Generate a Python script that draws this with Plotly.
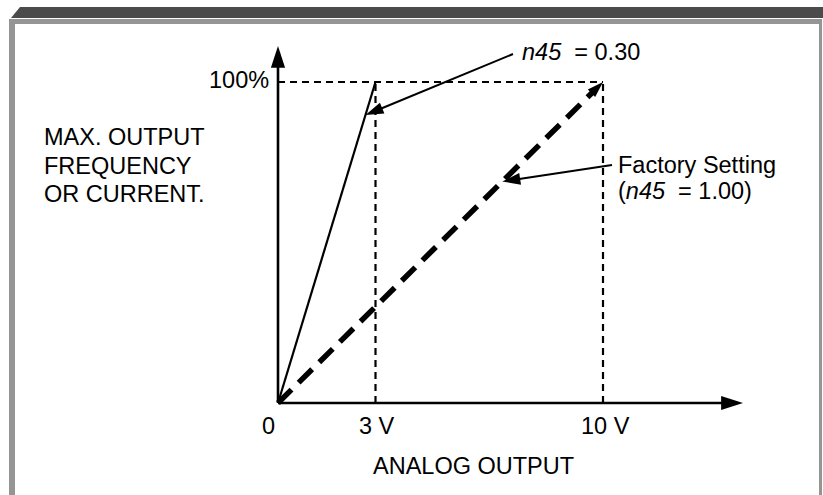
import plotly.graph_objects as go

# ---- chart values ----
volts = [0, 3, 10]                 # marked analog output voltages
volt_labels = ["0", "3 V", "10 V"]
v_max = 10                         # full analog output range (V)
full_scale = 100                   # % of max output frequency / current
full_scale_label = "100%"
gain_n45 = 0.30                    # n45 setting, steep curve
gain_factory = 1.00                # n45 factory setting
y_title_lines = ["MAX. OUTPUT", "FREQUENCY", "OR CURRENT."]
x_title = "ANALOG OUTPUT"
label_n45 = "<i>n45</i>\u00a0 = 0.30"
label_factory = ["Factory Setting", "(<i>n45</i>\u00a0 = 1.00)"]

# ---- page geometry (pixels) ----
W, H = 823, 495
ORIGIN = (278, 403)
PX_PER_V = 32.5
PX_PER_PCT = 3.21
FONT = dict(family="Liberation Sans, Arial, sans-serif", size=23.5, color="black")


def dx(px):
    return (px - ORIGIN[0]) / PX_PER_V


def dy(py):
    return (ORIGIN[1] - py) / PX_PER_PCT


def paper_x(px):
    return px / W


def paper_y(py):
    return 1 - py / H


def paper_path(points):
    pts = [f"{paper_x(x):.5f},{paper_y(y):.5f}" for x, y in points]
    return "M" + " L".join(pts) + " Z"


def arrow_marker(size):
    # arrow head on the last point, oriented along the segment
    return dict(symbol="arrow", size=[0, size], angleref="previous",
                color="black", opacity=1, line=dict(width=0))


x_range = [dx(0), dx(W)]
y_range = [dy(H), dy(0)]

fig = go.Figure()

# dashed guide lines at full scale and the two saturation voltages
v_sat_n45 = v_max * gain_n45
v_sat_fac = v_max * gain_factory
fig.add_trace(go.Scatter(
    x=[0, v_max, None, v_sat_n45, v_sat_n45, None, v_sat_fac, v_sat_fac],
    y=[full_scale, full_scale, None, 0, full_scale, None, 0, full_scale],
    mode="lines", line=dict(color="black", width=2.2, dash="7px,5px"),
))

# n45 = 0.30 characteristic
fig.add_trace(go.Scatter(
    x=[0, v_sat_n45], y=[0, full_scale],
    mode="lines", line=dict(color="black", width=2.2),
))

# factory setting characteristic (thick dashed, arrow at the end)
fig.add_trace(go.Scatter(
    x=[0, v_sat_fac], y=[0, full_scale],
    mode="lines+markers",
    line=dict(color="black", width=5.5, dash="19px,10px"),
    marker=arrow_marker(17),
))

# axes with arrow heads
x_axis_end = dx(743)
y_axis_end = dy(46)
for xs, ys in (([0, x_axis_end], [0, 0]), ([0, 0], [0, y_axis_end])):
    fig.add_trace(go.Scatter(
        x=xs, y=ys, mode="lines+markers",
        line=dict(color="black", width=2.6),
        marker=arrow_marker(23),
    ))

# callout arrows pointing at each curve
frac_n45, frac_fac = 0.897, 0.69
callouts = [
    ((dx(513), dy(54)), (v_sat_n45 * frac_n45, full_scale * frac_n45)),
    ((dx(612), dy(165)), (v_sat_fac * frac_fac, full_scale * frac_fac)),
]
for (tx, ty), (hx, hy) in callouts:
    fig.add_trace(go.Scatter(
        x=[tx, hx], y=[ty, hy], mode="lines+markers",
        line=dict(color="black", width=2),
        marker=arrow_marker(19),
    ))

annotations = []
# voltage tick labels
tick_dx = [-10, 1, 2]
for v, lab, sh in zip(volts, volt_labels, tick_dx):
    annotations.append(dict(x=v, y=0, text=lab, showarrow=False,
                            xanchor="center", yanchor="middle",
                            xshift=sh, yshift=-23, font=FONT))
# full-scale label
annotations.append(dict(x=0, y=full_scale, text=full_scale_label, showarrow=False,
                        xanchor="right", yanchor="middle", xshift=-7, yshift=2,
                        font=FONT))
# axis titles
for line, cy in zip(y_title_lines, [137, 166, 194]):
    annotations.append(dict(xref="paper", yref="paper", x=paper_x(42), y=paper_y(cy),
                            text=line, showarrow=False, xanchor="left",
                            yanchor="middle", font=FONT))
annotations.append(dict(xref="paper", yref="paper", x=paper_x(474), y=paper_y(466),
                        text=x_title, showarrow=False, xanchor="center",
                        yanchor="middle", font=FONT))
# curve labels
annotations.append(dict(xref="paper", yref="paper", x=paper_x(520), y=paper_y(52),
                        text=label_n45, showarrow=False, xanchor="left",
                        yanchor="middle", font=FONT))
for line, cy in zip(label_factory, [165, 191]):
    annotations.append(dict(xref="paper", yref="paper", x=paper_x(616), y=paper_y(cy),
                            text=line, showarrow=False, xanchor="left",
                            yanchor="middle", font=FONT))

# page frame: dark title strip and grey border
shapes = [
    dict(type="path", xref="paper", yref="paper",
         path=paper_path([(11, 18), (20, 7), (W, 7), (W, 18)]),
         fillcolor="#4b4b4b", line=dict(width=0), layer="below"),
    dict(type="rect", xref="paper", yref="paper",
         x0=paper_x(9), x1=paper_x(822), y0=paper_y(24), y1=paper_y(19),
         fillcolor="#959595", line=dict(width=0), layer="below"),
    dict(type="rect", xref="paper", yref="paper",
         x0=paper_x(9), x1=paper_x(15), y0=paper_y(H), y1=paper_y(19),
         fillcolor="#959595", line=dict(width=0), layer="below"),
    dict(type="rect", xref="paper", yref="paper",
         x0=paper_x(819), x1=paper_x(822), y0=paper_y(H), y1=paper_y(19),
         fillcolor="#959595", line=dict(width=0), layer="below"),
]

fig.update_layout(
    width=W, height=H,
    margin=dict(l=0, r=0, t=0, b=0),
    paper_bgcolor="white", plot_bgcolor="white",
    showlegend=False, hovermode=False,
    xaxis=dict(range=x_range, visible=False, fixedrange=True),
    yaxis=dict(range=y_range, visible=False, fixedrange=True),
    annotations=annotations, shapes=shapes,
)

fig.write_html("out.html", config={"displayModeBar": False})
